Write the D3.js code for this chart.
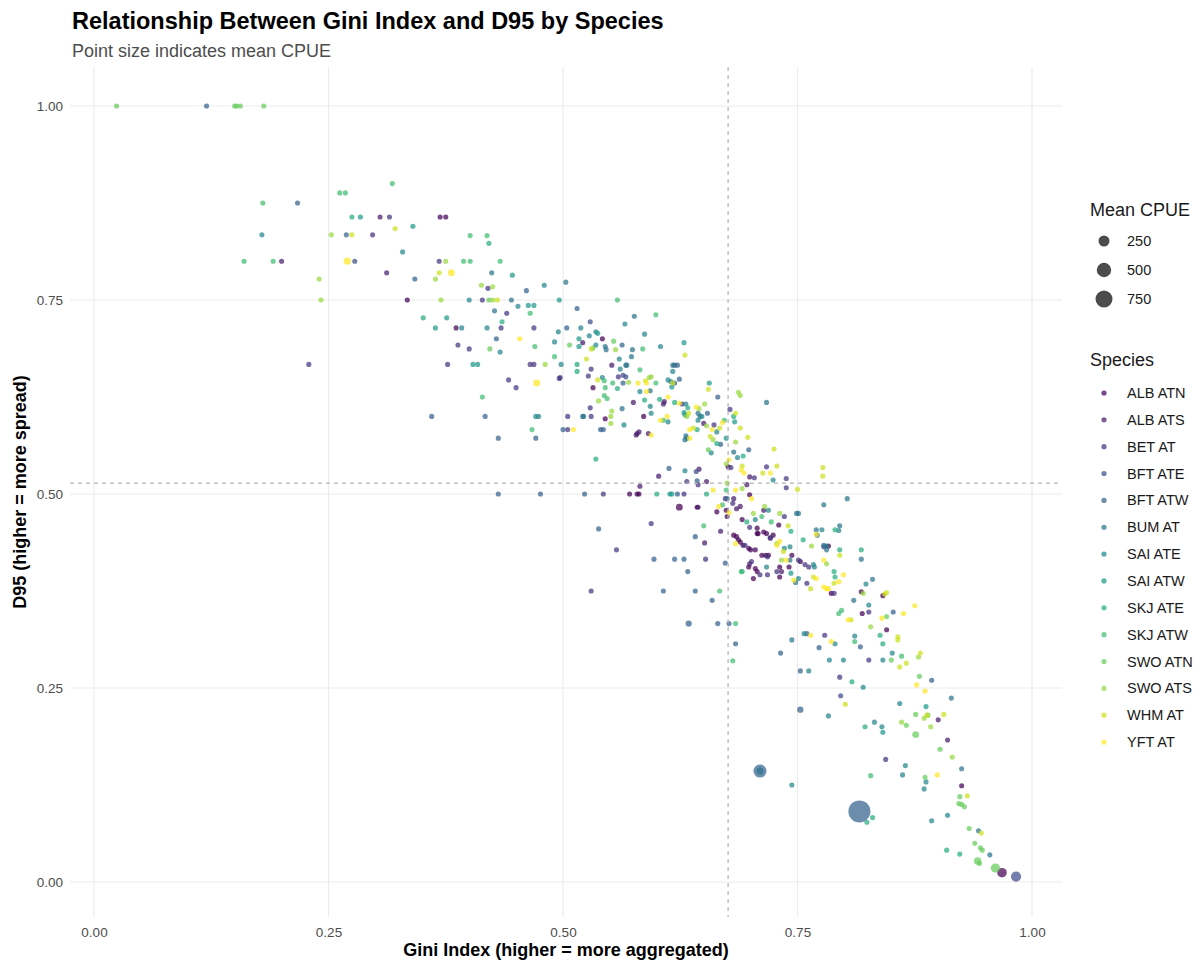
<!DOCTYPE html>
<html>
<head>
<meta charset="utf-8">
<script src="https://cdn.jsdelivr.net/npm/d3@7"></script>
<style>
  body { margin: 0; background: #fff; }
  svg { font-family: "Liberation Sans", Arial, sans-serif; }
</style>
</head>
<body>
<div class="chart_container"></div>
<script>
// species order (legend + colour order)
const speciesNames = ["ALB ATN", "ALB ATS", "BET AT", "BFT ATE", "BFT ATW", "BUM AT", "SAI ATE",
  "SAI ATW", "SKJ ATE", "SKJ ATW", "SWO ATN", "SWO ATS", "WHM AT", "YFT AT"];

// points: [gini, d95, meanCPUE]  (cpue left out = small catch, 20)
const albAtn = [[.334,.75],[.369,.857],[.375,.857],[.386,.714],[.532,.637],[.542,.70],[.586,.60],[.545,.597],
  [.571,.50],[.579,.50],[.581,.50],[.624,.483,60],[.643,.483],[.676,.535],[.664,.477],[.674,.479],[.675,.471],
  [.699,.499],[.682,.447],[.685,.445],[.689,.438],[.692,.434],[.691,.467],[.707,.456],[.708,.449],[.717,.449],
  [.724,.447],[.73,.46],[.687,.441],[.698,.43],[.70,.428],[.707,.449],[.714,.451],[.705,.428],[.744,.421],
  [.712,.421],[.716,.421],[.719,.421],[.698,.406],[.705,.404],[.707,.40],[.703,.391],[.731,.406],[.731,.393],
  [.741,.406],[.753,.413],[.783,.433],[.786,.372],[.818,.374],[.819,.346],[.841,.369],[.845,.325],[.925,.124],
  [.968,.012,170]];
const albAts = [[.305,.857],[.200,.80],[.312,.785],[.521,.695],[.552,.666],[.575,.618],[.607,.616],[.608,.619],
  [.579,.578],[.581,.58],[.578,.576],[.591,.578],[.582,.51],[.644,.483],[.651,.437],[.668,.452],[.602,.523],
  [.645,.532],[.653,.516],[.65,.591],[.682,.494],[.685,.481],[.689,.484],[.696,.512],[.699,.522],[.714,.479],
  [.721,.443],[.699,.41],[.733,.40],[.90,.209],[.91,.183]];
const betAt = [[.229,.667],[.315,.857],[.297,.834],[.368,.80],[.420,.765],[.414,.75],[.440,.733],[.434,.714],
  [.469,.714],[.388,.692],[.40,.687],[.377,.667],[.465,.667],[.469,.667],[.530,.661],[.527,.652],[.442,.647],
  [.45,.637],[.496,.649],[.529,.611],[.505,.60],[.53,.60],[.505,.583],[.543,.50],[.629,.50],[.644,.512],
  [.594,.462],[.557,.428],[.652,.416],[.53,.375],[.497,.65],[.559,.651],[.627,.616],[.632,.516],[.661,.589],
  [.679,.534],[.704,.521],[.717,.535],[.738,.52],[.738,.508],[.678,.609],[.681,.488],[.673,.494],[.699,.457],
  [.721,.444],[.736,.471],[.694,.434],[.718,.419],[.701,.413],[.71,.396],[.718,.396],[.728,.40],[.751,.415],
  [.758,.409],[.762,.406],[.76,.385],[.778,.432],[.789,.372],[.826,.348],[.779,.318],[.826,.286],[.795,.264],
  [.844,.158]];
const bftAte = [[.278,.80],[.529,.722],[.564,.653],[.567,.651],[.642,.529],[.796,.24],[.983,.007,200]];
const bftAtw = [[.120,1.0],[.217,.875],[.269,.834],[.342,.777],[.461,.762],[.504,.714],[.429,.70],[.36,.60],
  [.417,.60],[.431,.572],[.471,.572],[.431,.50],[.476,.50],[.523,.50],[.538,.455],[.597,.416],[.619,.416],
  [.629,.416],[.633,.40],[.641,.445],[.673,.411],[.607,.375],[.641,.375],[.659,.363],[.634,.333,45],[.665,.333],
  [.677,.333],[.684,.307],[.54,.583],[.543,.583],[.50,.583],[.622,.50],[.563,.692],[.619,.666],[.622,.666],
  [.624,.648],[.619,.643],[.564,.643],[.613,.533],[.643,.517],[.654,.604],[.665,.625],[.668,.564],[.698,.557],
  [.675,.494],[.515,.739],[.732,.295],[.753,.272],[.773,.302],[.817,.303],[.852,.348],[.76,.32],[.753,.222,45],
  [.893,.26],[.71,.143,385],[.816,.091,1360]];
const bumAt = [[.424,.785],[.503,.773],[.445,.75],[.427,.736],[.521,.60],[.522,.60],[.545,.69],[.546,.686],
  [.574,.686],[.573,.677],[.567,.666],[.568,.666],[.617,.666],[.576,.729],[.563,.61],[.593,.633],[.631,.575],
  [.632,.572],[.63,.57],[.644,.604],[.646,.60],[.682,.554],[.717,.618],[.803,.494],[.778,.486],[.749,.475],
  [.751,.475],[.771,.447],[.778,.434],[.781,.433],[.795,.459],[.77,.454],[.742,.415],[.748,.386],[.781,.428],
  [.81,.363],[.818,.416],[.83,.39],[.744,.312],[.914,.237],[.925,.146],[.943,.066],[.955,.035],[.71,.143,60]];
const saiAte = [[.179,.834],[.329,.812],[.400,.75],[.452,.742],[.392,.714],[.419,.714],[.495,.709],[.519,.714],
  [.535,.709],[.528,.704],[.535,.692],[.433,.683],[.491,.696],[.498,.667],[.471,.60],[.474,.60],[.48,.769],
  [.566,.719],[.587,.706],[.604,.69],[.56,.674],[.561,.661],[.617,.658],[.542,.65],[.582,.632],[.612,.647],
  [.615,.645],[.593,.613],[.594,.604],[.565,.589],[.612,.593],[.631,.616],[.644,.595],[.648,.60],[.664,.58],
  [.686,.547],[.658,.553],[.63,.53],[.724,.518],[.705,.467],[.719,.479],[.742,.432],[.736,.43],[.717,.406],
  [.767,.409],[.768,.406],[.751,.391],[.794,.453],[.776,.454],[.823,.384],[.826,.357],[.811,.317],[.79,.307],
  [.757,.32],[.784,.286],[.799,.286],[.841,.286],[.851,.295],[.762,.272],[.82,.251],[.783,.214],[.859,.23],
  [.832,.206],[.84,.20],[.865,.15],[.862,.138],[.885,.12],[.91,.086],[.893,.079],[.744,.125],[.887,.129]];
const saiAtw = [[.284,.857],[.340,.845],[.376,.727],[.364,.714],[.446,.782],[.463,.743],[.469,.743],[.496,.75],
  [.517,.70],[.517,.69],[.537,.707],[.404,.667],[.409,.667],[.614,.50],[.616,.50],[.629,.695],[.616,.638],
  [.656,.643],[.629,.605],[.63,.602],[.674,.572],[.683,.593],[.743,.398],[.887,.226],[.841,.193]];
const skjAte = [[.275,.857],[.421,.823],[.351,.727],[.435,.722],[.515,.667],[.515,.658],[.535,.545],[.60,.50],
  [.653,.50],[.691,.40],[.558,.636],[.587,.621],[.603,.622],[.619,.618],[.633,.611],[.643,.583],[.664,.565],
  [.682,.60],[.692,.549],[.696,.464],[.743,.452],[.756,.441],[.79,.454],[.789,.40],[.79,.393],[.795,.428],
  [.818,.428],[.838,.318],[.841,.307],[.808,.258],[.822,.20],[.909,.041],[.923,.036],[.824,.077],[.83,.083]];
const skjAtw = [[.318,.90],[.262,.888],[.268,.888],[.180,.875],[.160,.80],[.191,.80],[.401,.833],[.419,.833],
  [.394,.80],[.401,.80],[.433,.80],[.465,.733],[.470,.69],[.414,.625],[.491,.677],[.467,.583],[.558,.75],
  [.599,.731],[.585,.687],[.582,.66],[.544,.646],[.545,.637],[.553,.643],[.599,.643],[.544,.627],[.547,.623],
  [.607,.595],[.67,.486],[.672,.595],[.674,.505],[.65,.459],[.667,.375],[.684,.333],[.681,.285],[.69,.40],
  [.712,.471],[.722,.464],[.794,.346],[.811,.31],[.861,.291],[.828,.137],[.797,.35]];
const swoAtn = [[.024,1.0],[.150,1.0],[.152,1.0],[.156,1.0],[.181,1.0],[.421,.75],[.507,.692],[.532,.688],
  [.422,.687],[.554,.697],[.655,.557],[.845,.342],[.88,.265],[.876,.216],[.889,.215],[.866,.202],[.876,.19,60],
  [.902,.171],[.886,.135],[.923,.11],[.922,.101],[.925,.10],[.928,.097],[.933,.069],[.939,.05],[.945,.044],
  [.947,.041],[.942,.027,80],[.961,.018,150],[.944,.024],[.85,.286]];
const swoAts = [[.240,.777],[.242,.75],[.253,.834],[.375,.80],[.364,.777],[.370,.75],[.413,.769],[.425,.767],
  [.425,.75],[.481,.667],[.538,.62],[.556,.686],[.57,.644],[.592,.65],[.594,.651],[.551,.60],[.552,.607],
  [.551,.591],[.645,.61],[.651,.616],[.632,.60],[.653,.588],[.66,.57],[.684,.567],[.687,.631],[.689,.627],
  [.674,.539],[.691,.507],[.675,.514],[.703,.475],[.715,.484],[.731,.475],[.728,.436],[.733,.415],[.765,.433],
  [.781,.41],[.82,.372],[.828,.329],[.879,.29],[.861,.206],[.885,.211],[.892,.20],[.915,.161]];
const whmAt = [[.321,.842],[.275,.834],[.368,.785],[.430,.75],[.537,.647],[.53,.687],[.525,.674],[.63,.679],
  [.588,.646],[.617,.643],[.655,.635],[.634,.604],[.639,.585],[.667,.585],[.657,.574],[.684,.604],[.689,.585],
  [.697,.573],[.691,.536],[.713,.527],[.725,.558],[.728,.536],[.75,.506],[.777,.534],[.777,.523],[.735,.426],
  [.74,.459],[.764,.378],[.767,.393],[.789,.385],[.795,.421],[.843,.371],[.845,.373],[.807,.338],[.801,.229],
  [.859,.277],[.866,.282],[.881,.295],[.857,.316],[.857,.312],[.906,.216],[.888,.215],[.931,.111],[.946,.063]];
const yftAt = [[.270,.80,70],[.381,.785,65],[.454,.70],[.472,.643,65],[.511,.583],[.58,.643],[.589,.643],
  [.589,.632],[.612,.625],[.624,.617],[.611,.60],[.604,.595],[.594,.576],[.635,.583],[.642,.612],[.659,.583],
  [.67,.592],[.66,.505],[.666,.484],[.677,.476],[.684,.505],[.69,.531],[.693,.527],[.701,.494],[.721,.527],
  [.684,.436],[.728,.434],[.731,.439],[.746,.389],[.738,.415],[.77,.448],[.778,.415],[.77,.391],[.778,.38],
  [.781,.378],[.783,.378],[.794,.387],[.799,.396],[.804,.338],[.764,.318],[.786,.31],[.84,.34],[.863,.346],
  [.875,.356],[.877,.254],[.886,.246],[.899,.138],[.635,.572],[.677,.544]];

const speciesPoints = [albAtn, albAts, betAt, bftAte, bftAtw, bumAt, saiAte, saiAtw, skjAte, skjAtw,
  swoAtn, swoAts, whmAt, yftAt];

const axisTicks = [0, 0.25, 0.5, 0.75, 1];
const sizeBreaks = [250, 500, 750];
const meanGini = 0.676;
const meanD95 = 0.514;

//^ DIMENSIONS //
const width = 1203;
const height = 965;
const panel = { left: 70, right: 1062, top: 67, bottom: 917 };

const svg = d3.select(".chart_container").append("svg")
  .attr("width", width).attr("height", height);

const xScale = d3.scaleLinear().domain([0, 1]).range([94, 1032]);
const yScale = d3.scaleLinear().domain([0, 1]).range([882, 106]);
const color = d3.scaleOrdinal().domain(speciesNames)
  .range(speciesNames.map((s, i) => d3.interpolateViridis(i / (speciesNames.length - 1))));
// area-proportional size scale (radius in px)
const rScale = d3.scaleSqrt().domain([0, 1360]).range([1.4, 11]);

//^ GRID //
const grid = svg.append("g");
grid.selectAll(".gx").data(axisTicks).enter().append("line")
  .attr("x1", (d) => xScale(d)).attr("x2", (d) => xScale(d))
  .attr("y1", panel.top).attr("y2", panel.bottom)
  .attr("stroke", "#ebebeb").attr("stroke-width", 1.1);
grid.selectAll(".gy").data(axisTicks).enter().append("line")
  .attr("y1", (d) => yScale(d)).attr("y2", (d) => yScale(d))
  .attr("x1", panel.left).attr("x2", panel.right)
  .attr("stroke", "#ebebeb").attr("stroke-width", 1.1);

//^ AXES (no lines, labels only) //
const xAxis = d3.axisBottom(xScale).tickValues(axisTicks).tickFormat(d3.format(".2f")).tickSize(0).tickPadding(0);
svg.append("g").attr("transform", `translate(0, ${panel.bottom + 20})`).call(xAxis)
  .call((g) => g.select(".domain").remove())
  .selectAll("text").attr("fill", "#4d4d4d").attr("font-size", 13.5).attr("dy", 0);
const yAxis = d3.axisLeft(yScale).tickValues(axisTicks).tickFormat(d3.format(".2f")).tickSize(0).tickPadding(0);
svg.append("g").attr("transform", `translate(${panel.left - 7}, 0)`).call(yAxis)
  .call((g) => g.select(".domain").remove())
  .selectAll("text").attr("fill", "#4d4d4d").attr("font-size", 13.5).attr("dy", "0.35em");

//^ POINTS //
const flat = [];
speciesPoints.forEach((pts, i) => pts.forEach((p) => flat.push({ sp: speciesNames[i], g: p[0], d: p[1], c: p[2] || 20 })));
svg.append("g").selectAll("circle").data(flat).enter().append("circle")
  .attr("cx", (d) => xScale(d.g)).attr("cy", (d) => yScale(d.d))
  .attr("r", (d) => rScale(d.c))
  .attr("fill", (d) => color(d.sp)).attr("fill-opacity", 0.72);

//^ REFERENCE LINES //
svg.append("line").attr("x1", xScale(meanGini)).attr("x2", xScale(meanGini))
  .attr("y1", panel.top).attr("y2", panel.bottom)
  .attr("stroke", "#b3b3b3").attr("stroke-width", 1.2).attr("stroke-dasharray", "4,4");
svg.append("line").attr("y1", yScale(meanD95)).attr("y2", yScale(meanD95))
  .attr("x1", panel.left).attr("x2", panel.right)
  .attr("stroke", "#b3b3b3").attr("stroke-width", 1.2).attr("stroke-dasharray", "4,4");

//^ TITLES //
svg.append("text").attr("x", 72).attr("y", 29).text("Relationship Between Gini Index and D95 by Species")
  .attr("font-size", 23.5).attr("font-weight", "bold").attr("fill", "#000");
svg.append("text").attr("x", 72).attr("y", 57).text("Point size indicates mean CPUE")
  .attr("font-size", 18).attr("fill", "#4d4d4d");
svg.append("text").attr("x", (panel.left + panel.right) / 2).attr("y", 956).attr("text-anchor", "middle")
  .text("Gini Index (higher = more aggregated)").attr("font-size", 18).attr("font-weight", "bold");
svg.append("text").attr("transform", `translate(26, ${(panel.top + panel.bottom) / 2}) rotate(-90)`)
  .attr("text-anchor", "middle").text("D95 (higher = more spread)")
  .attr("font-size", 18).attr("font-weight", "bold");

//^ SIZE LEGEND //
const lg = svg.append("g");
lg.append("text").attr("x", 1090).attr("y", 216).text("Mean CPUE").attr("font-size", 18).attr("fill", "#1a1a1a");
sizeBreaks.forEach((b, i) => {
  const cy = 241 + i * 29;
  lg.append("circle").attr("cx", 1104).attr("cy", cy).attr("r", rScale(b)).attr("fill", "#000").attr("fill-opacity", 0.7);
  lg.append("text").attr("x", 1127).attr("y", cy).attr("dy", "0.35em").text(b).attr("font-size", 14.5).attr("fill", "#1a1a1a");
});

//^ SPECIES LEGEND //
lg.append("text").attr("x", 1090).attr("y", 366).text("Species").attr("font-size", 18).attr("fill", "#1a1a1a");
speciesNames.forEach((s, i) => {
  const cy = 393 + i * 26.85;
  lg.append("circle").attr("cx", 1104).attr("cy", cy).attr("r", 2.6).attr("fill", color(s)).attr("fill-opacity", 0.72);
  lg.append("text").attr("x", 1127).attr("y", cy).attr("dy", "0.35em").text(s).attr("font-size", 14.5).attr("fill", "#1a1a1a");
});
</script>
</body>
</html>
